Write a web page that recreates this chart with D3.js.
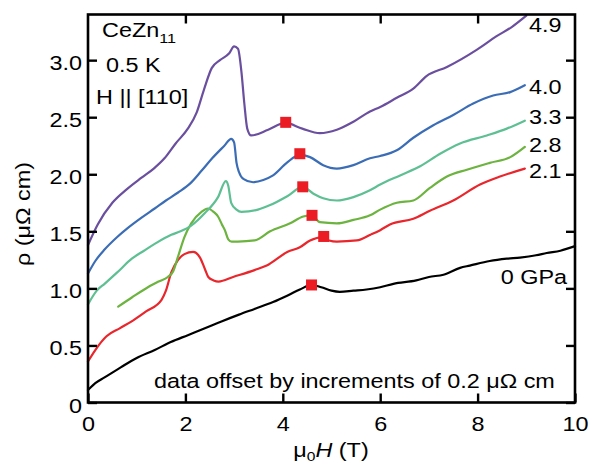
<!DOCTYPE html>
<html>
<head>
<meta charset="utf-8">
<script src="https://cdn.jsdelivr.net/npm/d3@7"></script>
<style>
  html, body { margin: 0; padding: 0; background: #fff; }
  svg { display: block; }
  text { font-family: "Liberation Sans", Arial, Helvetica, sans-serif; fill: #000; }
</style>
</head>
<body>
<script>
// Field sweeps of resistivity in CeZn11 at 0.5 K, H || [110], at several pressures.
// Each curve: [field (T), rho (µΩ cm)], already offset by 0.2 µΩ cm steps.
const rho0GPa = [[0,0.11],[0.15,0.17],[0.34,0.22],[0.68,0.31],[1.0,0.39],[1.37,0.46],[1.7,0.53],[2.05,0.59],[2.4,0.65],[2.74,0.71],[3.1,0.77],[3.42,0.82],[3.8,0.88],[4.11,0.94],[4.35,0.99],[4.59,1.03],[4.79,1.01],[5.0,0.98],[5.17,0.97],[5.45,0.98],[5.72,0.99],[6.0,1.01],[6.27,1.04],[6.74,1.07],[7.0,1.10],[7.3,1.12],[7.64,1.18],[7.84,1.20],[8.25,1.24],[8.6,1.26],[8.87,1.27],[9.2,1.29],[9.42,1.31],[9.7,1.33],[10.0,1.37]];
const rho21GPa = [[0,0.36],[0.15,0.46],[0.38,0.58],[0.65,0.65],[0.93,0.72],[1.2,0.80],[1.51,0.90],[1.6,0.98],[1.71,1.14],[1.85,1.25],[1.98,1.30],[2.16,1.32],[2.3,1.27],[2.4,1.17],[2.47,1.10],[2.58,1.07],[2.68,1.06],[2.98,1.10],[3.42,1.16],[3.67,1.20],[4.1,1.32],[4.35,1.36],[4.56,1.42],[4.83,1.45],[4.95,1.42],[5.11,1.41],[5.52,1.42],[5.8,1.47],[6.0,1.51],[6.2,1.56],[6.68,1.61],[7.02,1.68],[7.5,1.77],[8.05,1.91],[8.46,1.98],[8.97,2.05]];
const rho28GPa = [[0.62,0.84],[0.9,0.92],[1.23,1.01],[1.45,1.06],[1.64,1.10],[1.75,1.15],[1.85,1.28],[1.98,1.45],[2.12,1.57],[2.33,1.67],[2.46,1.70],[2.58,1.67],[2.67,1.63],[2.75,1.56],[2.81,1.51],[2.88,1.43],[2.95,1.41],[3.08,1.41],[3.42,1.42],[3.74,1.50],[4.15,1.57],[4.42,1.63],[4.59,1.64],[4.76,1.58],[5.11,1.57],[5.45,1.60],[5.79,1.64],[6.0,1.69],[6.34,1.75],[6.68,1.77],[7.02,1.88],[7.37,1.98],[7.78,2.04],[8.25,2.10],[8.67,2.15],[8.97,2.24]];
const rho33GPa = [[0,0.86],[0.18,0.98],[0.34,1.04],[0.6,1.14],[0.9,1.26],[1.15,1.33],[1.37,1.39],[1.71,1.47],[1.9,1.50],[2.12,1.55],[2.4,1.66],[2.67,1.80],[2.83,1.94],[2.88,1.90],[2.94,1.75],[3.05,1.69],[3.15,1.67],[3.49,1.69],[3.74,1.73],[4.1,1.81],[4.41,1.89],[4.63,1.83],[4.83,1.79],[5.11,1.77],[5.45,1.80],[5.79,1.86],[6.0,1.91],[6.41,1.99],[6.82,2.07],[7.23,2.18],[7.64,2.27],[8.19,2.34],[8.6,2.40],[8.97,2.47]];
const rho40GPa = [[0,1.13],[0.15,1.24],[0.34,1.34],[0.6,1.45],[0.82,1.53],[1.1,1.62],[1.37,1.70],[1.6,1.77],[1.85,1.84],[2.1,1.92],[2.33,2.03],[2.55,2.14],[2.8,2.25],[2.94,2.31],[3.0,2.28],[3.05,2.10],[3.1,2.02],[3.19,1.96],[3.39,1.93],[3.6,1.95],[3.8,1.99],[4.08,2.10],[4.35,2.17],[4.56,2.15],[4.83,2.08],[5.11,2.05],[5.45,2.08],[5.79,2.14],[6.0,2.16],[6.34,2.21],[6.68,2.32],[7.09,2.43],[7.5,2.52],[7.91,2.62],[8.32,2.69],[8.67,2.72],[8.97,2.78]];
const rho49GPa = [[0,1.38],[0.2,1.56],[0.5,1.75],[0.8,1.87],[1.1,1.97],[1.35,2.05],[1.57,2.14],[1.8,2.27],[2.05,2.40],[2.23,2.54],[2.38,2.74],[2.54,2.93],[2.71,3.0],[2.9,3.06],[3.0,3.12],[3.08,3.10],[3.15,2.90],[3.21,2.62],[3.27,2.40],[3.35,2.34],[3.7,2.39],[4.05,2.45],[4.4,2.40],[4.76,2.36],[5.11,2.39],[5.45,2.46],[5.79,2.55],[6.0,2.59],[6.34,2.67],[6.68,2.75],[6.95,2.86],[7.37,2.94],[7.98,3.09],[8.39,3.21],[8.7,3.29],[9.0,3.39]];

// Local maxima marked on each curve: [field (T), rho]
const peakMarks = [[4.59,1.03],[4.84,1.455],[4.6,1.64],[4.41,1.89],[4.35,2.18],[4.06,2.455]];

const pressureLabels = ["0 GPa", "2.1", "2.8", "3.3", "4.0", "4.9"];
const xTicks = [0, 2, 4, 6, 8, 10];
const yTicks = [0, 0.5, 1.0, 1.5, 2.0, 2.5, 3.0];

const series = [rho0GPa, rho21GPa, rho28GPa, rho33GPa, rho40GPa, rho49GPa];
const colors = ["#000000", "#e8262b", "#6cb33f", "#5ebf93", "#3b6db6", "#6a4f9f"];

const W = 598, H = 465;
const plotL = 88, plotR = 575, plotT = 14.5, plotB = 402.5;
const SX = 1.2;           // horizontal stretch of the lettering
const FS = 19.5;

const svg = d3.select("body").append("svg").attr("width", W).attr("height", H);

const x = d3.scaleLinear().domain([0, 10]).range([plotL, plotR]);
const y = d3.scaleLinear().domain([0, 3.4]).range([plotB, plotT]);

// curves
const line = d3.line().x(d => x(d[0])).y(d => y(d[1])).curve(d3.curveMonotoneX);
svg.append("g").selectAll("path").data(series).join("path")
  .attr("d", line)
  .attr("fill", "none")
  .attr("stroke", (d, i) => colors[i])
  .attr("stroke-width", 2.2)
  .attr("stroke-linejoin", "round")
  .attr("stroke-linecap", "round");

// peak markers
const ms = 11;
svg.append("g").selectAll("rect").data(peakMarks).join("rect")
  .attr("x", d => x(d[0]) - ms / 2)
  .attr("y", d => y(d[1]) - ms / 2)
  .attr("width", ms).attr("height", ms)
  .attr("fill", "#ec1c24");

// axes with inward ticks
const fmtY = d => d === 0 ? "0" : d3.format(".1f")(d);
const styleAxis = g => {
  g.select(".domain").remove();
  g.selectAll(".tick line").attr("stroke", "#000").attr("stroke-width", 2.4);
  g.selectAll(".tick text").style("font-size", FS + "px")
    .attr("font-family", null).attr("fill", "#000");
};

svg.append("g").attr("transform", `translate(${plotL},0)`)
  .call(d3.axisLeft(y).tickValues(yTicks).tickFormat(fmtY).tickSizeInner(-9).tickSizeOuter(0).tickPadding(5))
  .call(styleAxis)
  .call(g => g.selectAll(".tick text").attr("dy", null).attr("y", 9.5).attr("transform", `scale(${SX},1)`));

svg.append("g").attr("transform", `translate(${plotR},0)`)
  .call(d3.axisRight(y).tickValues(yTicks).tickFormat("").tickSizeInner(-9).tickSizeOuter(0))
  .call(styleAxis);

svg.append("g").attr("transform", `translate(0,${plotB})`)
  .call(d3.axisBottom(x).tickValues(xTicks).tickFormat(d3.format("d")).tickSizeInner(-9).tickSizeOuter(0).tickPadding(15))
  .call(styleAxis)
  .call(g => g.selectAll(".tick text").attr("transform", `scale(${SX},1)`));

svg.append("g").attr("transform", `translate(0,${plotT})`)
  .call(d3.axisTop(x).tickValues([2, 4, 6, 8]).tickFormat("").tickSizeInner(-9).tickSizeOuter(0))
  .call(styleAxis);

// frame
svg.append("rect")
  .attr("x", plotL).attr("y", plotT)
  .attr("width", plotR - plotL).attr("height", plotB - plotT)
  .attr("fill", "none").attr("stroke", "#000").attr("stroke-width", 2.6);

// text helper with horizontal stretch
function label(px, py, anchor, rot) {
  const tr = `translate(${px},${py})` + (rot ? ` rotate(${rot})` : "") + ` scale(${SX},1)`;
  return svg.append("text").attr("transform", tr)
    .attr("text-anchor", anchor).style("font-size", FS + "px");
}

// pressure labels
const labelPos = [[567, 284, "end"], [529, 178, "start"], [529, 151.5, "start"], [529, 124, "start"], [529, 94, "start"], [529, 31.5, "start"]];
pressureLabels.forEach((s, i) => label(labelPos[i][0], labelPos[i][1], labelPos[i][2]).text(s));

// sample info
const t1 = label(102, 36.7, "start");
t1.append("tspan").text("CeZn");
t1.append("tspan").attr("dy", 6).style("font-size", "13.5px").text("11");
label(106, 71.5, "start").text("0.5 K");
label(96, 103.5, "start").text("H || [110]");

label(154, 388, "start").text("data offset by increments of 0.2 μΩ cm");

// axis titles
const xt = label(331, 456.5, "middle");
xt.append("tspan").text("μ");
xt.append("tspan").attr("dy", 4).style("font-size", "13px").text("0");
xt.append("tspan").attr("dy", -4).style("font-style", "italic").text("H");
xt.append("tspan").text(" (T)");

label(30, 214, "middle", -90).text("ρ (μΩ cm)");
</script>
</body>
</html>
